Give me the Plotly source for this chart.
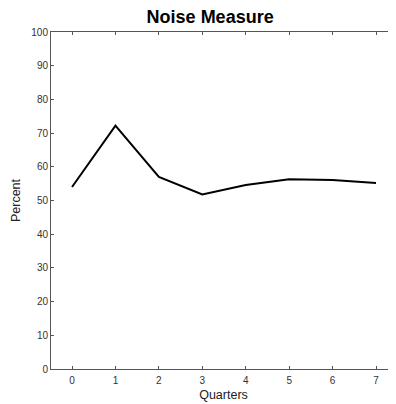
import plotly.graph_objects as go

quarters = [0, 1, 2, 3, 4, 5, 6, 7]
percent = [54.0, 72.2, 57.0, 51.8, 54.6, 56.3, 56.1, 55.2]
x_ticks = [0, 1, 2, 3, 4, 5, 6, 7]
y_ticks = [0, 10, 20, 30, 40, 50, 60, 70, 80, 90, 100]

FONT = "Liberation Sans, Arial, Helvetica"

fig = go.Figure()
fig.add_trace(go.Scatter(x=quarters, y=percent, mode="lines",
                         line=dict(color="black", width=2)))

axis_common = dict(showline=True, linecolor="#555555", linewidth=1, mirror="ticks",
                   ticks="inside", ticklen=3, tickcolor="#555555", showgrid=False,
                   zeroline=False, tickfont=dict(family=FONT, size=10, color="#333333"))

# page has an 8px body margin, so the figure is sized/offset to compensate
fig.update_layout(
    width=388, height=396,
    margin=dict(l=43, r=0, t=24, b=35),
    plot_bgcolor="white", paper_bgcolor="white",
    showlegend=False,
    title=dict(text="<b>Noise Measure</b>", x=0.521, xanchor="center", y=0.978, yanchor="middle",
               font=dict(family=FONT, size=18, color="black")),
    xaxis=dict(range=[-0.484, 7.46], tickvals=x_ticks, ticklabelstandoff=2,
               title=dict(text="Quarters", standoff=5,
                          font=dict(family=FONT, size=12.5, color="#222222")),
               **axis_common),
    yaxis=dict(range=[0, 100], tickvals=y_ticks,
               title=dict(text="Percent", standoff=7,
                          font=dict(family=FONT, size=12.5, color="#222222")),
               **axis_common),
)

fig.write_html("out.html")
